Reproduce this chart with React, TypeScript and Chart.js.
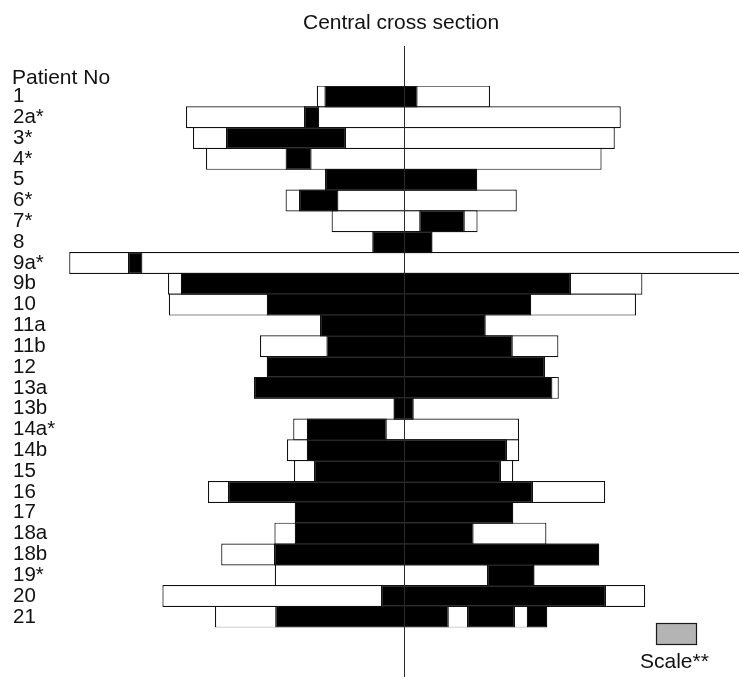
import { useEffect, useRef } from "react";
import { Chart, registerables } from "chart.js";

Chart.register(...registerables);

const titleText = "Central cross section";
const axisTitle = "Patient No";
const scaleLabel = "Scale**";

const patients = [
  "1", "2a*", "3*", "4*", "5", "6*", "7*", "8", "9a*", "9b", "10", "11a", "11b",
  "12", "13a", "13b", "14a*", "14b", "15", "16", "17", "18a", "18b", "19*", "20", "21",
];

// Full extent of the cross section (white), in scale units (scale bar = 10 units)
const sectionExtent: [number, number][] = [
  [-21.8, 21.5],
  [-54.5, 54.2],
  [-52.75, 52.7],
  [-49.5, 49.4],
  [-19.75, 18.3],
  [-29.6, 28.2],
  [-18.1, 18.4],
  [-7.9, 7.1],
  [-83.7, 86],
  [-59, 59.6],
  [-58.8, 58],
  [-21, 20.4],
  [-36, 38.6],
  [-34.3, 35.25],
  [-37.5, 38.7],
  [-2.6, 2.4],
  [-27.7, 28.75],
  [-29.25, 28.8],
  [-27.5, 27.3],
  [-49, 50.3],
  [-27.3, 27.3],
  [-32.4, 35.6],
  [-45.7, 48.8],
  [-32.3, 32.6],
  [-60.4, 60.3],
  [-47.25, 35.8],
];

// Black segments
const blackA: ([number, number] | null)[] = [
  [-19.9, 3.4],
  [-25, -21.2],
  [-44.5, -14.5],
  [-29.6, -23.1],
  [-19.75, 18.3],
  [-26.25, -16.4],
  [3.8, 15.2],
  [-7.9, 7.1],
  [-69, -65.4],
  [-55.8, 41.75],
  [-34.3, 31.8],
  [-21, 20.4],
  [-19.4, 27.2],
  [-34.3, 35.25],
  [-37.5, 37.1],
  [-2.6, 2.4],
  [-24.3, -4.3],
  [-24.3, 25.75],
  [-22.5, 24.25],
  [-44, 32.25],
  [-27.3, 27.3],
  [-27.3, 17.4],
  [-32.5, 48.8],
  [20.75, 32.6],
  [-5.75, 50.5],
  [-32.2, 11.2],
];

const blackB: ([number, number] | null)[] = [
  null, null, null, null, null, null, null, null, null, null, null, null, null,
  null, null, null, null, null, null, null, null, null, null, null, null, [15.75, 27.75],
];

const blackC: ([number, number] | null)[] = [
  null, null, null, null, null, null, null, null, null, null, null, null, null,
  null, null, null, null, null, null, null, null, null, null, null, null, [30.7, 35.8],
];

const scaleBar: [number, number] = [63, 73];

const FONT = '"Liberation Sans", Arial, Helvetica, sans-serif';

const overlayPlugin = {
  id: "overlay",
  afterDatasetsDraw(chart: any) {
    const { ctx } = chart;
    const xs = chart.scales.x;
    const cx = Math.round(xs.getPixelForValue(0)) + 0.5;
    ctx.save();
    // central line
    ctx.strokeStyle = "#2a2a2a";
    ctx.lineWidth = 1;
    ctx.beginPath();
    ctx.moveTo(cx, 46);
    ctx.lineTo(cx, 677);
    ctx.stroke();
    // scale box
    const x0 = Math.round(xs.getPixelForValue(scaleBar[0])) + 0.5;
    const x1 = Math.round(xs.getPixelForValue(scaleBar[1])) + 0.5;
    ctx.fillStyle = "#b4b4b4";
    ctx.fillRect(x0, 623.5, x1 - x0, 21);
    ctx.strokeStyle = "#1a1a1a";
    ctx.lineWidth = 1.2;
    ctx.strokeRect(x0, 623.5, x1 - x0, 21);
    // texts
    ctx.fillStyle = "#111";
    ctx.font = `21px ${FONT}`;
    ctx.textAlign = "left";
    ctx.textBaseline = "alphabetic";
    ctx.fillText(titleText, 303, 28.5);
    ctx.fillText(axisTitle, 12, 83.5);
    ctx.fillText(scaleLabel, 640, 667.5);
    ctx.restore();
  },
};

export default function App() {
  const ref = useRef<HTMLCanvasElement | null>(null);

  useEffect(() => {
    document.body.style.margin = "0";
    document.documentElement.style.overflow = "hidden";
    if (!ref.current) return;
    const common = {
      borderColor: "#111",
      borderWidth: 1.2,
      borderSkipped: false as const,
      grouped: false,
      categoryPercentage: 1,
      barPercentage: 1.055,
    };
    const chart = new Chart(ref.current, {
      type: "bar",
      data: {
        labels: patients,
        datasets: [
          { ...common, label: "Black A", data: blackA as any, backgroundColor: "#000", order: 1 },
          { ...common, label: "Black B", data: blackB as any, backgroundColor: "#000", order: 1 },
          { ...common, label: "Black C", data: blackC as any, backgroundColor: "#000", order: 1 },
          { ...common, label: "Section", data: sectionExtent as any, backgroundColor: "#fff", order: 2 },
        ],
      },
      options: {
        indexAxis: "y",
        animation: false,
        responsive: true,
        maintainAspectRatio: false,
        layout: { padding: { left: 13, top: 86, right: 0, bottom: 49.7 } },
        scales: {
          x: { type: "linear", min: -84, max: 83.75, display: false },
          y: {
            type: "category",
            grid: { display: false },
            border: { display: false },
            ticks: {
              autoSkip: false,
              crossAlign: "far",
              padding: 0,
              color: "#111",
              font: { family: FONT, size: 20.5 },
            },
            afterFit: (s: any) => {
              s.width = 55;
            },
          },
        },
        plugins: {
          legend: { display: false },
          tooltip: { enabled: false },
          title: { display: false },
        },
      },
      plugins: [overlayPlugin],
    });
    return () => chart.destroy();
  }, []);

  return (
    <div style={{ position: "relative", width: "739px", height: "677px" }}>
      <canvas ref={ref} />
    </div>
  );
}
